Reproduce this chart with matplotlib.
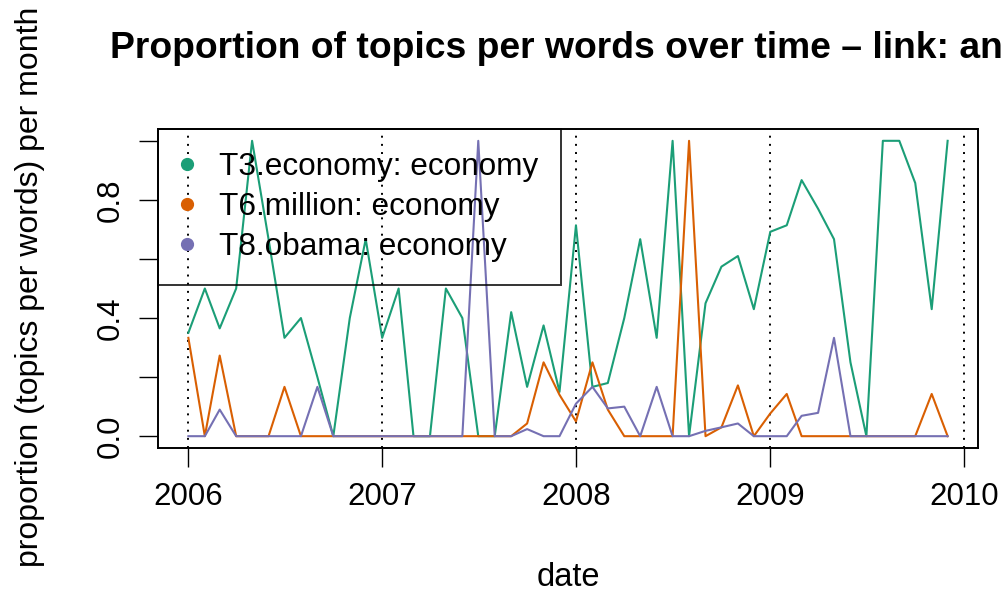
import pandas as pd
import matplotlib
matplotlib.use("Agg")
import matplotlib.pyplot as plt

plt.rcParams["font.family"] = ["Liberation Sans", "DejaVu Sans"]

# monthly proportions, Jan 2006 - Dec 2009
months = pd.date_range("2006-01-01", "2009-12-01", freq="MS")
t3_economy = [0.35, 0.5, 0.365, 0.5, 1.0, 0.667, 0.333, 0.4, 0.2, 0.0, 0.4, 0.667,
              0.333, 0.5, 0.0, 0.0, 0.5, 0.4, 0.0, 0.0, 0.42, 0.167, 0.375, 0.15,
              0.714, 0.167, 0.18, 0.4, 0.667, 0.333, 1.0, 0.0, 0.45, 0.574, 0.61, 0.43,
              0.692, 0.714, 0.867, 0.77, 0.667, 0.25, 0.0, 1.0, 1.0, 0.857, 0.43, 1.0]
t6_million = [0.333, 0.0, 0.273, 0.0, 0.0, 0.0, 0.167, 0.0, 0.0, 0.0, 0.0, 0.0,
              0.0, 0.0, 0.0, 0.0, 0.0, 0.0, 0.0, 0.0, 0.0, 0.043, 0.25, 0.14,
              0.05, 0.25, 0.09, 0.0, 0.0, 0.0, 0.0, 1.0, 0.0, 0.03, 0.172, 0.0,
              0.077, 0.143, 0.0, 0.0, 0.0, 0.0, 0.0, 0.0, 0.0, 0.0, 0.143, 0.0]
t8_obama = [0.0, 0.0, 0.09, 0.0, 0.0, 0.0, 0.0, 0.0, 0.167, 0.0, 0.0, 0.0,
            0.0, 0.0, 0.0, 0.0, 0.0, 0.0, 1.0, 0.0, 0.0, 0.024, 0.0, 0.0,
            0.11, 0.167, 0.094, 0.1, 0.0, 0.167, 0.0, 0.0, 0.018, 0.03, 0.043, 0.0,
            0.0, 0.0, 0.069, 0.079, 0.333, 0.0, 0.0, 0.0, 0.0, 0.0, 0.0, 0.0]
labels = ["T3.economy: economy", "T6.million: economy", "T8.obama: economy"]
colors = ["#1B9E77", "#D95F02", "#7570B3"]
years = [2006, 2007, 2008, 2009, 2010]
y_ticks = [0.0, 0.2, 0.4, 0.6, 0.8, 1.0]
y_ticklabels = ["0.0", "", "0.4", "", "0.8", ""]

fig = plt.figure(figsize=(10.01, 5.96), dpi=100)
ax = fig.add_axes([158 / 1001, 1 - 448 / 596, 820 / 1001, 319 / 596])

for vals, lab, c in zip([t3_economy, t6_million, t8_obama], labels, colors):
    ax.plot(months, vals, color=c, lw=1.5, label=lab)
ax.margins(x=0.04, y=0.04)

# dotted year boundaries
year_dates = pd.to_datetime([f"{y}-01-01" for y in years])
for d in year_dates:
    ax.axvline(d, color="black", lw=1.4, linestyle=(0, (1, 3.2)), zorder=0)

ax.set_xticks(year_dates)
ax.set_xticklabels([str(y) for y in years])
ax.set_yticks(y_ticks)
ax.set_yticklabels(y_ticklabels, rotation=90, va="center")
ax.tick_params(axis="both", direction="out", length=13.5, width=1.0, labelsize=22.5, pad=10)
ax.tick_params(axis="x", pad=11)
for sp in ax.spines.values():
    sp.set_linewidth(1.4)

# legend box without fill, lines stay visible behind it
lg = ax.legend(handles=[plt.Line2D([], [], ls="", marker="o", ms=8.5, color=c) for c in colors],
               labels=labels, loc="upper left", bbox_to_anchor=(0, 1), borderaxespad=0,
               fontsize=22.7, fancybox=False, edgecolor="black",
               handlelength=0.38, handletextpad=0.83, labelspacing=0.32, borderpad=0.72)
lg.get_frame().set_facecolor("none")
lg.get_frame().set_linewidth(1.4)

fig.text(110 / 1001, 1 - 48 / 596, "Proportion of topics per words over time \u2013 link: an",
         fontsize=26.8, fontweight="bold", ha="left", va="center")
fig.text(568 / 1001, 1 - 578 / 596, "date", fontsize=23.5, ha="center", va="center")
fig.text(30 / 1001, 1 - 287 / 596, "proportion (topics per words) per month",
         fontsize=23.0, rotation=90, ha="center", va="center")

fig.savefig("out.png", dpi=100)
